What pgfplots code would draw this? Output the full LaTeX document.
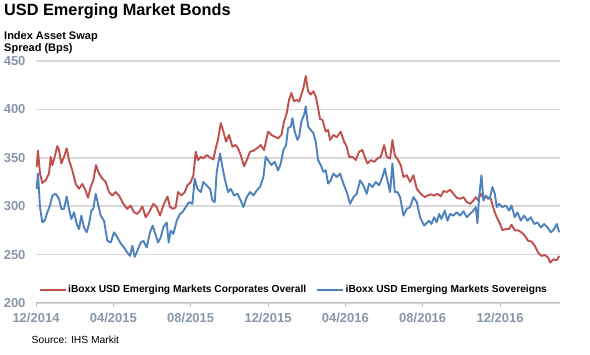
\documentclass[border=0pt]{standalone}
\usepackage{fontspec}
\setmainfont{Liberation Sans}
\usepackage{pgfplots}
\pgfplotsset{compat=1.18}
\definecolor{cred}{RGB}{192,80,77}
\definecolor{cblue}{RGB}{79,129,189}
\definecolor{tickgray}{RGB}{137,150,168}
\definecolor{gridgray}{RGB}{217,217,217}
\definecolor{axisgray}{RGB}{190,190,190}
\begin{document}
\begin{tikzpicture}[x=1pt,y=1pt]
\useasboundingbox (-36,-52) rectangle (554,303);
\begin{axis}[
  at={(0,0)}, anchor=south west,
  width=524pt, height=242pt, scale only axis,
  xmin=0, xmax=27.1, ymin=200, ymax=450,
  axis x line*=bottom, axis y line*=left,
  y axis line style={draw=none},
  x axis line style={axisgray, line width=1pt, -},
  ytick={200,250,...,450},
  xtick={0,4,...,24},
  xticklabels={12/2014,04/2015,08/2015,12/2015,04/2016,08/2016,12/2016},
  ymajorgrids, grid style={gridgray, line width=1.5pt},
  ytick style={draw=none},
  xtick style={axisgray, line width=0.8pt},
  tick align=outside, major tick length=4pt,
  tick label style={font=\fontsize{13}{15}\selectfont\bfseries, text=tickgray},
  xticklabel style={yshift=-3pt},
  yticklabel style={xshift=-3pt},
  /pgf/number format/assume math mode=true,
  legend style={draw=none, fill=none, at={(0.005,0.054)}, anchor=west,
    legend columns=2, font=\fontsize{10.2}{12}\selectfont\bfseries,
    inner xsep=0pt, /tikz/every even column/.append style={column sep=8pt}},
  legend image code/.code={\draw[#1, line width=1.4pt] (0pt,0pt) -- (26pt,0pt);},
  clip=false,
]
\addplot[cred, line width=1.9pt, line join=round] coordinates {
(0.034,340.6) (0.103,357.3) (0.207,333.7) (0.328,324.0) (0.500,326.8) (0.672,333.7)
(0.759,351.0) (0.845,342.4) (0.966,351.0) (1.104,362.2) (1.190,358.0) (1.310,344.0)
(1.449,351.0) (1.586,359.7) (1.707,347.6) (1.880,337.0) (2.052,323.0) (2.224,318.0)
(2.397,323.0) (2.569,316.0) (2.690,308.7) (2.828,320.0) (2.966,326.8) (3.104,342.4)
(3.259,333.7) (3.432,328.5) (3.604,325.0) (3.776,314.6) (3.949,311.0) (4.121,314.6)
(4.294,311.0) (4.518,302.4) (4.725,297.2) (4.897,300.7) (5.070,293.7) (5.242,292.0)
(5.380,295.5) (5.501,299.7) (5.673,288.6) (5.846,293.7) (6.070,302.4) (6.242,299.0)
(6.415,290.3) (6.587,300.7) (6.800,310.0) (6.932,299.0) (7.105,297.2) (7.226,299.0)
(7.346,314.6) (7.519,311.0) (7.691,314.6) (7.829,321.5) (8.002,325.0) (8.140,332.0)
(8.260,356.3) (8.381,347.6) (8.519,351.0) (8.657,349.3) (8.829,352.8) (9.002,350.3)
(9.174,348.3) (9.295,359.7) (9.416,369.0) (9.554,385.8) (9.692,377.0) (9.829,366.7)
(9.985,373.6) (10.157,361.5) (10.330,363.2) (10.450,359.7) (10.588,352.8) (10.761,341.3)
(10.899,347.6) (11.071,356.3) (11.244,357.3) (11.416,359.7) (11.623,363.2) (11.795,358.0)
(12.002,377.0) (12.175,373.6) (12.347,371.9) (12.520,370.1) (12.692,373.6) (12.830,387.5)
(12.968,396.2) (13.089,410.0) (13.209,417.0) (13.347,408.3) (13.485,410.0) (13.606,408.0)
(13.726,415.3) (13.830,422.2) (13.951,434.4) (14.071,418.7) (14.209,415.3) (14.347,418.7)
(14.468,413.5) (14.589,401.4) (14.692,390.0) (14.813,389.2) (14.985,377.1) (15.106,378.8)
(15.209,368.4) (15.382,373.6) (15.554,371.2) (15.761,377.1) (15.934,366.7) (16.072,361.5)
(16.192,351.0) (16.365,351.0) (16.537,347.6) (16.710,356.3) (16.882,358.0) (17.003,351.0)
(17.141,344.1) (17.313,347.6) (17.486,345.8) (17.658,349.3) (17.831,351.0) (18.003,363.2)
(18.141,351.0) (18.313,349.3) (18.434,368.4) (18.555,352.8) (18.727,347.6) (18.865,342.4)
(19.003,330.2) (19.176,332.0) (19.348,325.0) (19.520,332.0) (19.693,318.0) (19.900,312.8)
(20.107,309.4) (20.245,311.0) (20.417,312.2) (20.589,311.0) (20.762,312.8) (20.934,310.0)
(21.072,315.6) (21.245,314.6) (21.417,317.0) (21.590,312.8) (21.762,308.7) (21.934,307.6)
(22.107,309.4) (22.279,304.2) (22.452,302.4) (22.624,305.9) (22.745,309.4) (22.866,305.9)
(23.004,312.8) (23.142,308.7) (23.348,309.4) (23.521,307.6) (23.693,295.5) (23.831,288.6)
(24.004,281.6) (24.124,275.3) (24.297,276.4) (24.469,276.4) (24.590,280.9) (24.762,275.0)
(24.935,275.0) (25.107,273.0) (25.280,269.6) (25.452,264.2) (25.625,263.5) (25.797,259.0)
(25.970,252.0) (26.142,248.6) (26.314,249.6) (26.487,246.9) (26.590,241.7) (26.763,245.1)
(26.935,244.1) (27.056,248.6)
};
\addlegendentry{iBoxx USD Emerging Markets Corporates Overall}
\addplot[cblue, line width=1.9pt, line join=round] coordinates {
(0.034,318.0) (0.103,333.7) (0.207,299.0) (0.328,283.3) (0.448,285.0) (0.586,293.7)
(0.724,300.7) (0.845,311.0) (1.017,312.8) (1.190,307.6) (1.310,297.2) (1.449,297.2)
(1.586,310.0) (1.707,297.2) (1.828,286.8) (1.966,293.7) (2.104,281.6) (2.224,276.4)
(2.345,290.3) (2.483,278.1) (2.621,273.0) (2.742,281.6) (2.862,295.5) (2.966,297.2)
(3.087,312.8) (3.207,302.4) (3.345,290.3) (3.518,285.0) (3.690,264.2) (3.863,262.5)
(4.035,273.0) (4.208,267.8) (4.380,261.5) (4.552,257.3) (4.725,252.0) (4.863,248.6)
(4.984,259.0) (5.104,247.6) (5.242,253.8) (5.415,262.5) (5.553,264.2) (5.725,257.3)
(5.898,273.0) (6.035,280.0) (6.173,271.3) (6.311,262.5) (6.449,267.8) (6.587,278.1)
(6.760,283.3) (6.863,262.5) (6.967,274.7) (7.105,271.3) (7.277,285.0) (7.450,292.0)
(7.570,293.7) (7.743,299.0) (7.915,304.2) (8.088,302.4) (8.208,328.5) (8.346,318.0)
(8.519,314.6) (8.657,325.0) (8.829,321.5) (9.002,318.0) (9.122,305.9) (9.243,304.2)
(9.347,335.4) (9.519,354.5) (9.640,340.6) (9.760,328.5) (9.933,314.6) (10.071,318.0)
(10.243,311.0) (10.416,312.8) (10.588,305.9) (10.726,299.0) (10.899,309.4) (11.071,314.6)
(11.244,311.0) (11.416,316.3) (11.588,320.0) (11.761,330.2) (11.882,351.0) (12.002,347.6)
(12.175,342.4) (12.347,345.8) (12.520,337.0) (12.657,344.0) (12.795,358.0) (12.934,363.2)
(13.037,380.6) (13.175,382.3) (13.261,391.0) (13.382,377.0) (13.520,368.4) (13.606,372.0)
(13.726,387.5) (13.864,394.4) (13.951,403.1) (14.071,382.3) (14.209,378.8) (14.347,375.3)
(14.468,366.7) (14.589,347.6) (14.727,342.4) (14.865,335.4) (14.985,337.2) (15.106,323.3)
(15.244,326.8) (15.382,333.7) (15.554,330.2) (15.727,333.7) (15.899,323.3) (16.072,314.6)
(16.244,302.4) (16.416,309.4) (16.589,312.8) (16.761,326.8) (16.934,321.5) (17.106,312.8)
(17.227,323.3) (17.400,319.8) (17.572,325.0) (17.744,321.5) (17.917,330.2) (18.037,338.9)
(18.175,326.8) (18.313,314.6) (18.434,344.1) (18.555,314.6) (18.693,314.6) (18.831,309.4)
(19.003,290.3) (19.176,297.2) (19.348,299.0) (19.520,309.4) (19.693,304.2) (19.865,288.6)
(20.072,280.0) (20.245,283.3) (20.331,285.0) (20.451,281.6) (20.589,288.6) (20.727,283.3)
(20.848,292.0) (20.969,286.8) (21.141,295.5) (21.279,285.0) (21.417,292.0) (21.590,290.3)
(21.762,293.7) (21.934,290.3) (22.107,294.8) (22.279,288.6) (22.452,292.0) (22.624,295.5)
(22.745,299.0) (22.831,282.3) (22.917,309.4) (23.038,331.9) (23.142,305.9) (23.262,311.0)
(23.383,307.6) (23.486,309.4) (23.607,319.8) (23.728,312.8) (23.831,299.0) (23.952,302.4)
(24.124,299.0) (24.297,300.7) (24.469,295.5) (24.590,300.7) (24.762,288.6) (24.900,293.7)
(25.073,285.0) (25.245,290.3) (25.418,285.0) (25.590,288.6) (25.763,281.6) (25.935,283.3)
(26.108,278.1) (26.280,281.6) (26.452,278.1) (26.625,273.0) (26.797,276.4) (26.935,281.6)
(27.056,273.0)
};
\addlegendentry{iBoxx USD Emerging Markets Sovereigns}
\end{axis}
\node[anchor=west, inner sep=0pt, font=\fontsize{16.3}{18}\selectfont\bfseries] at (-32,292) {USD Emerging Market Bonds};
\node[anchor=north west, inner sep=0pt, align=left, font=\fontsize{11}{12.5}\selectfont\bfseries] at (-32,272) {Index Asset Swap\\Spread (Bps)};
\node[anchor=west, inner sep=0pt, font=\fontsize{10.3}{12}\selectfont] at (-4.5,-37) {Source: IHS Markit};
\end{tikzpicture}
\end{document}
